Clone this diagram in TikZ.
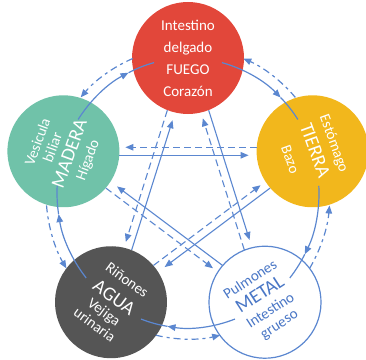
\documentclass[tikz,border=0pt]{standalone}
\usepackage{fontspec}
\setmainfont{Carlito}
\usepackage{tikz}
\usetikzlibrary{calc,arrows.meta}
\definecolor{fuego}{HTML}{E2473A}
\definecolor{tierra}{HTML}{F2B71C}
\definecolor{madera}{HTML}{70C2A9}
\definecolor{agua}{HTML}{555555}
\definecolor{flow}{HTML}{5B87D0}
\definecolor{metaltext}{HTML}{4A77C6}
\newcommand\elname{\fontsize{19.5}{23}\selectfont}
\tikzset{
  elem/.style={circle, minimum size=112pt, inner sep=0pt, align=center, text=white, font=\fontsize{15}{16}\selectfont},
  wide/.style={font=\fontsize{15}{22}\selectfont},
  gen/.style={draw=flow, line width=1.2pt},
  ins/.style={draw=flow, line width=1.2pt, dash pattern=on 7pt off 4pt on 3pt off 4pt},
  ctrl/.style={draw=flow, line width=1.1pt},
  rev/.style={draw=flow, line width=1.1pt, dash pattern=on 7pt off 4pt},
  tip/.style={-{Triangle[length=8pt,width=6.5pt]}},
}
\begin{document}
\begin{tikzpicture}[x=1pt,y=1pt]
  \useasboundingbox (-188,-166) rectangle (178,193);
  \def\rx{131}
  \def\ry{135}
  \coordinate (O) at (0,0);
  \node[elem, wide, fill=fuego] (fuego) at ({\rx*cos(90)},{\ry*sin(90)}) {Intestino\\delgado\\FUEGO\\Corazón};
  \node[elem, wide, fill=tierra, rotate=-70] (tierra) at ({\rx*cos(18)},{\ry*sin(18)}) {Estómago\\{\elname TIERRA}\\[3pt]Bazo};
  \node[elem, fill=white, draw=flow, line width=1.2pt, text=metaltext, rotate=33] (metal) at ({\rx*cos(-54)},{\ry*sin(-54)}) {Pulmones\\[3pt]{\elname METAL}\\[2pt]Intestino\\grueso};
  \node[elem, fill=agua, rotate=-36] (agua) at ({\rx*cos(-126)},{\ry*sin(-126)}) {Riñones\\[7pt]{\elname AGUA}\\Vejiga\\urinaria};
  \node[elem, fill=madera, rotate=70] (madera) at ({\rx*cos(162)},{\ry*sin(162)}) {Vesicula\\biliar\\[3pt]{\elname MADERA}\\[2pt]Hígado};
  % outer ring: solid one way, dashed back
  \foreach \a in {162,90,18,-54,-126}{
    \pgfmathsetmacro\sa{\a-15}
    \pgfmathsetmacro\ta{\a-45}
    \pgfmathsetmacro\ea{\a-57}
    \pgfmathsetmacro\da{\a-49.1}
    \pgfmathsetmacro\db{\a-22.9}
    \draw[gen,tip] ({\rx*cos(\sa)},{\ry*sin(\sa)}) arc[start angle=\sa, end angle=\ta, x radius=\rx, y radius=\ry];
    \draw[gen] ({\rx*cos(\ta)},{\ry*sin(\ta)}) arc[start angle=\ta, end angle=\ea, x radius=\rx, y radius=\ry];
    \draw[ins,tip] ({(\rx+11)*cos(\da)},{(\ry+11)*sin(\da)}) arc[start angle=\da, end angle=\db, x radius=\rx+11, y radius=\ry+11];
  }
  % star: solid and dashed lanes side by side
  \foreach \s/\t/\k/\kk in {madera/tierra/-90/90, tierra/agua/90/-90, agua/fuego/-90/90, fuego/metal/90/-90, metal/madera/-90/90}{
    \draw[ctrl,tip,shorten <=56pt,shorten >=64pt] ($(\s)!4pt!\k:(\t)$) -- ($(\t)!4pt!\kk:(\s)$);
    \draw[rev,tip,shorten <=56pt,shorten >=62pt] ($(\t)!4pt!\k:(\s)$) -- ($(\s)!4pt!\kk:(\t)$);
  }
\end{tikzpicture}
\end{document}
